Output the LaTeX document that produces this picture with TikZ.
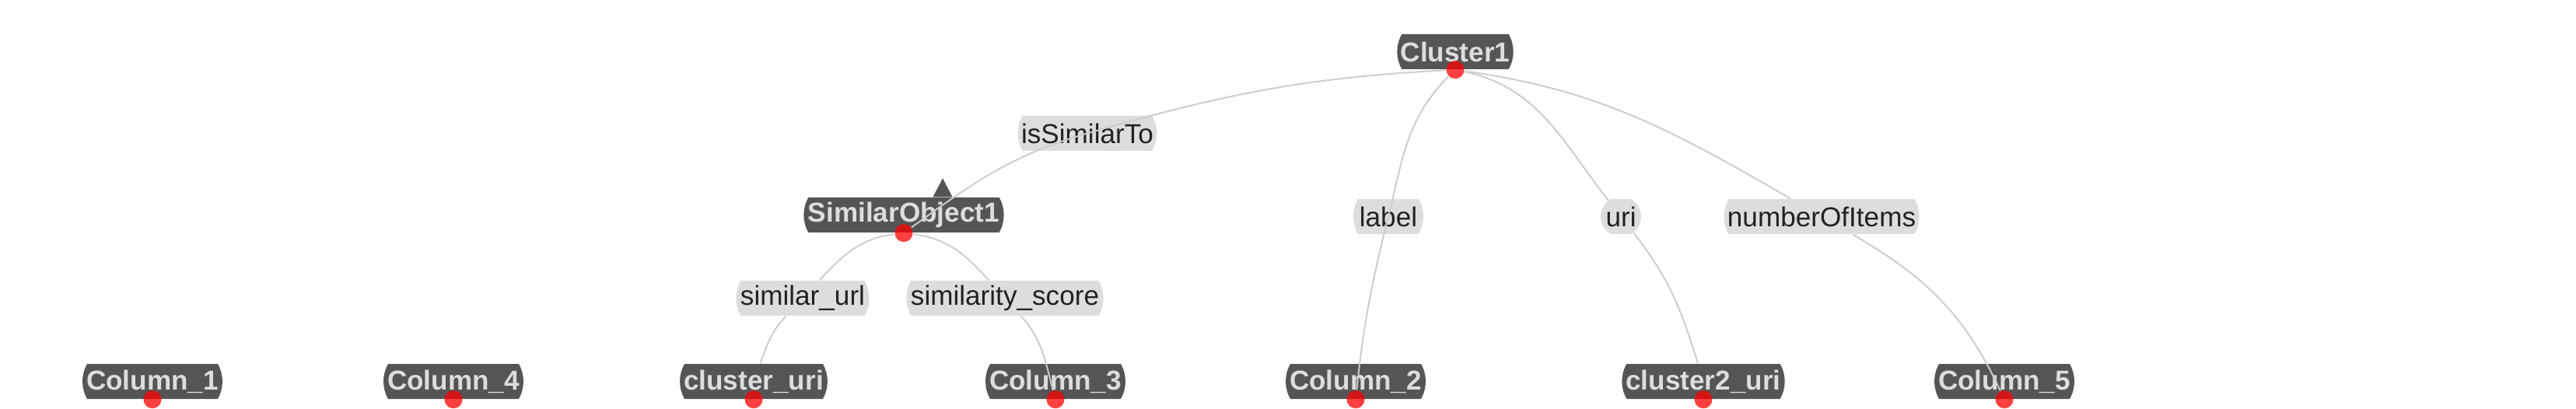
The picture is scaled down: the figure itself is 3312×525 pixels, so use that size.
\documentclass[tikz,border=0pt]{standalone}
\usepackage{fontspec}
\setmainfont{Liberation Sans}
\usetikzlibrary{shapes.misc}
\definecolor{boxgray}{HTML}{555555}
\definecolor{boxtext}{HTML}{DDDDDD}
\definecolor{propgray}{HTML}{DDDDDD}
\definecolor{proptext}{HTML}{222222}
\definecolor{linkgray}{HTML}{CCCCCC}
\begin{document}
\begin{tikzpicture}[x=0.1mm,y=0.1mm,
  entity/.style={rounded rectangle, rounded rectangle arc length=60, fill=boxgray, text=boxtext, font=\bfseries, minimum height=4.5mm, inner xsep=0.25mm, inner ysep=0pt},
  prop/.style={rounded rectangle, rounded rectangle arc length=60, fill=propgray, text=proptext, minimum height=4.5mm, inner xsep=0.25mm, inner ysep=0pt},
  dot/.style={circle, fill=red, fill opacity=0.75, minimum size=2.3mm, inner sep=0pt},
  link/.style={draw=linkgray, line width=0.55pt}]
\useasboundingbox (0,0) rectangle (3312,525);
% entities
\node [entity] (cluster1) at (1871,458.5) {Cluster1};
\node [entity] (simobj1) at (1162,248.5) {SimilarObject1};
\node [entity] (col1) at (196,34.5) {Column\_1};
\node [entity] (col4) at (583,34.5) {Column\_4};
\node [entity] (clusteruri) at (969,34.5) {cluster\_uri};
\node [entity] (col3) at (1357,34.5) {Column\_3};
\node [entity] (col2) at (1743,34.5) {Column\_2};
\node [entity] (cluster2uri) at (2190,34.5) {cluster2\_uri};
\node [entity] (col5) at (2577,34.5) {Column\_5};
% properties
\node [prop] (p-issimilar) at (1398,353.5) {isSimilarTo};
\node [prop] (p-label) at (1785,246.5) {label};
\node [prop, rounded rectangle arc length=120, inner xsep=0pt] (p-uri) at (2084,246.5) {uri};
\node [prop] (p-numitems) at (2342,246.5) {numberOfItems};
\node [prop] (p-simurl) at (1032,141.5) {similar\_url};
\node [prop] (p-simscore) at (1292,141.5) {similarity\_score};
% dots
\node [dot] (cluster1-dot) at (cluster1.south) {};
\node [dot] (simobj1-dot) at (simobj1.south) {};
\node [dot] (col1-dot) at (col1.south) {};
\node [dot] (col4-dot) at (col4.south) {};
\node [dot] (clusteruri-dot) at (clusteruri.south) {};
\node [dot] (col3-dot) at (col3.south) {};
\node [dot] (col2-dot) at (col2.south) {};
\node [dot] (cluster2uri-dot) at (cluster2uri.south) {};
\node [dot] (col5-dot) at (col5.south) {};
% arrow mark
\fill [boxgray] (simobj1.north) ++(37.5,0) -- ++(12.5,24) -- ++(12.5,-24) -- cycle;
% links
\draw [link] (cluster1-dot) to[out=183,in=16] (p-issimilar.center) to[out=196,in=36] (simobj1-dot);
\draw [link] (cluster1-dot) to[out=225,in=76] (p-label.center) to[out=256,in=84] (col2-dot);
\draw [link] (cluster1-dot) to[out=-12,in=128] (p-uri);
\draw [link] (p-uri) to[out=308,in=107] (cluster2uri);
\draw [link] (cluster1-dot) to[out=-8,in=150] (p-numitems);
\draw [link] (p-numitems) to[out=330,in=115] (col5-dot);
\draw [link] (simobj1-dot) to[out=187,in=47] (p-simurl);
\draw [link] (p-simurl) to[out=227,in=70] (clusteruri);
\draw [link] (simobj1-dot) to[out=-7,in=132] (p-simscore);
\draw [link] (p-simscore) to[out=312,in=105] (col3-dot);
\end{tikzpicture}
\end{document}
